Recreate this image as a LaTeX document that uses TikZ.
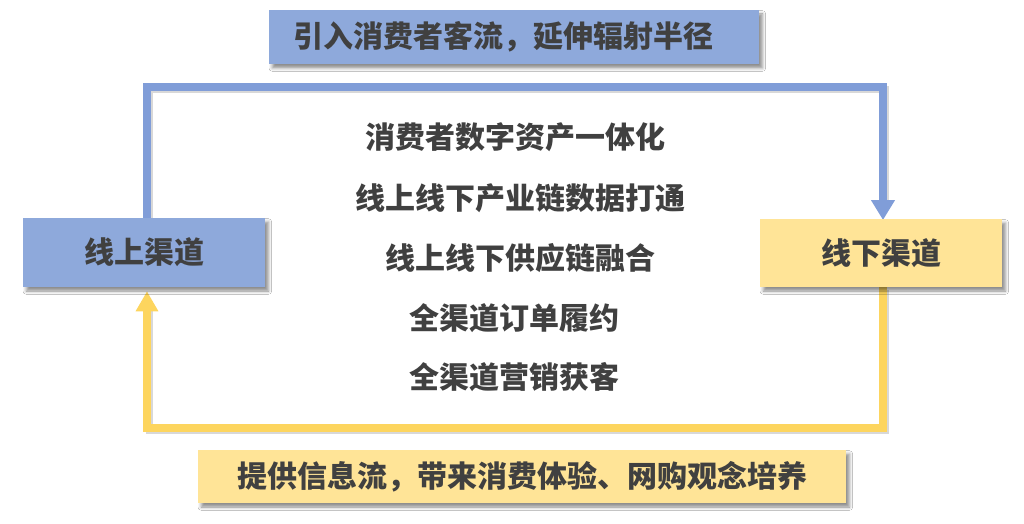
\documentclass[tikz,border=0pt]{standalone}
\usepackage{fontspec}
\setmainfont{Noto Sans CJK SC}
\usetikzlibrary{arrows.meta,shadows.blur,backgrounds}
\definecolor{boxblue}{HTML}{8EA9DB}
\definecolor{lineblue}{HTML}{809DD8}
\definecolor{boxyellow}{HTML}{FFE497}
\definecolor{lineyellow}{HTML}{FDD55E}
\definecolor{txt}{HTML}{404040}
\tikzset{
  box/.style={rectangle, inner sep=0pt, text=txt, font=\fontsize{22.5pt}{26pt}\selectfont\bfseries,
    blur shadow={shadow xshift=2.5pt, shadow yshift=-3pt, shadow opacity=45, shadow blur radius=2.5pt}},
  bluebox/.style={box, fill=boxblue},
  yellowbox/.style={box, fill=boxyellow},
  midtext/.style={text=txt, font=\fontsize{22.5pt}{26pt}\selectfont\bfseries, inner sep=0pt},
  flowline/.style={line width=5.5pt, line join=miter},
  flowshadow/.style={line width=5.5pt, draw=black!60, opacity=0.25, line join=miter,
    transform canvas={xshift=2pt, yshift=-2pt}},
  blueline/.style={flowline, draw=lineblue, -{Triangle[length=15pt,width=17pt]}},
  yellowline/.style={flowline, draw=lineyellow, -{Triangle[length=15pt,width=16pt]}},
}
\begin{document}
\begin{tikzpicture}[x=0.75pt, y=-0.75pt]
\useasboundingbox (0,0) rectangle (1024,524);
% boxes
\node[bluebox, minimum width=490*0.75pt, minimum height=54*0.75pt] (topbox) at (514,37) {\hspace*{-16pt}引入消费者客流，延伸辐射半径};
\node[yellowbox, minimum width=648*0.75pt, minimum height=53*0.75pt] (botbox) at (522,476.5) {提供信息流，带来消费体验、网购观念培养};
\node[bluebox, minimum width=242*0.75pt, minimum height=69*0.75pt] (on) at (144,252.5) {线上渠道};
\node[yellowbox, minimum width=242*0.75pt, minimum height=68*0.75pt] (off) at (881,253) {线下渠道};
% center texts
\node[midtext] (t1) at (515,137) {消费者数字资产一体化};
\node[midtext] (t2) at (520,198) {线上线下产业链数据打通};
\node[midtext] (t3) at (520,258) {线上线下供应链融合};
\node[midtext] (t4) at (514,318) {全渠道订单履约};
\node[midtext] (t5) at (514,377) {全渠道营销获客};
% corner coordinates
\coordinate (ctl) at (147,87);
\coordinate (ctr) at (883,87);
\coordinate (cbr) at (883,428);
\coordinate (cbl) at (147,428);
\begin{pgfonlayer}{background}
\fill[white] (0,0) rectangle (1024,524);
\draw[flowshadow] (on.north -| ctl) -- (ctl) -- (ctr) -- ([yshift=14pt]off.north -| ctr);
\draw[flowshadow] (off.south -| cbr) -- (cbr) -- (cbl) -- ([yshift=-14pt]on.south -| cbl);
\draw[blueline] (on.north -| ctl) -- (ctl) -- (ctr) -- ([yshift=-1pt]off.north -| ctr);
\draw[yellowline] (off.south -| cbr) -- (cbr) -- (cbl) -- ([yshift=-3pt]on.south -| cbl);
\end{pgfonlayer}
\end{tikzpicture}
\end{document}
